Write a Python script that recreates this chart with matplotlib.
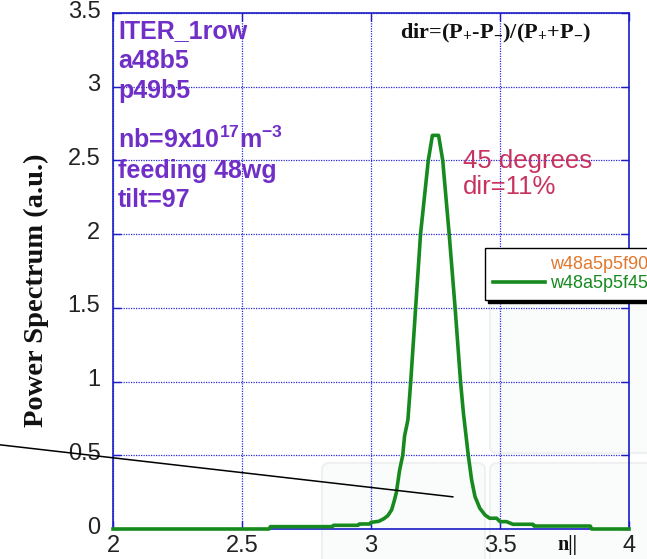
import matplotlib
matplotlib.use("Agg")
import matplotlib.pyplot as plt
from matplotlib.lines import Line2D
from matplotlib.patches import FancyBboxPatch
import matplotlib.transforms as mtransforms

# spectrum of the 45 degree case, read along n|| (2..4)
n_par = [2.00, 2.605, 2.61, 2.85, 2.855, 2.95, 2.955, 2.995, 3.00, 3.03,
         3.05, 3.065, 3.08, 3.09, 3.098, 3.111, 3.123, 3.13, 3.143, 3.154,
         3.173, 3.192, 3.222, 3.238, 3.262, 3.278, 3.303, 3.326, 3.347, 3.358,
         3.377, 3.39, 3.403, 3.422, 3.442, 3.46, 3.487, 3.50, 3.525, 3.55,
         3.628, 3.632, 3.85, 3.855, 4.00]
power = [0.0, 0.0, 0.016, 0.016, 0.025, 0.025, 0.034, 0.034, 0.045, 0.052,
         0.07, 0.09, 0.13, 0.19, 0.245, 0.40, 0.50, 0.63, 0.74, 1.00,
         1.50, 2.00, 2.50, 2.67, 2.67, 2.50, 2.00, 1.50, 1.00, 0.79,
         0.50, 0.333, 0.22, 0.14, 0.095, 0.073, 0.073, 0.05, 0.05, 0.032,
         0.032, 0.02, 0.02, 0.0, 0.0]

legend_labels = ["w48a5p5f90", "w48a5p5f45"]
x_ticks = [2, 2.5, 3, 3.5, 4]
y_ticks = [0, 0.5, 1, 1.5, 2, 2.5, 3, 3.5]
y_tick_labels = ["0", "0.5", "1", "1.5", "2", "2.5", "3", "3.5"]

info_lines = ["ITER_1row", "a48b5", "p49b5",
              r"nb=9x10$^{\mathbf{17}}$m$^{\mathbf{-3}}$",
              "feeding 48wg", "tilt=97"]

W, H = 647, 559
BLUE = "#1c1cc8"
GREEN = "#168a1e"
PURPLE = "#7030c8"
CRIMSON = "#c8325f"
ORANGE = "#e07830"

plt.rcParams["font.family"] = "Liberation Sans"
plt.rcParams["mathtext.fontset"] = "custom"
plt.rcParams["mathtext.bf"] = "Liberation Sans:bold"
plt.rcParams["mathtext.rm"] = "Liberation Serif:bold"


def fx(x):
    return x / W


def fy(y):
    return 1 - y / H


fig = plt.figure(figsize=(W / 100, H / 100), dpi=100)

# faint rounded panels behind the lower right of the plot
for x0, y0, x1, y1 in [(322, 463, 485, 575), (490, 463, 660, 575), (490, 300, 660, 453)]:
    fig.patches.append(FancyBboxPatch(
        (fx(x0), fy(y1)), fx(x1) - fx(x0), fy(y0) - fy(y1),
        boxstyle="round,pad=0,rounding_size=0.012", transform=fig.transFigure,
        facecolor="#fafbfb", edgecolor="#eff1f1", lw=1.5, zorder=-5))

ax = fig.add_axes([fx(113), fy(529), fx(629) - fx(113), fy(13) - fy(529)])
ax.set_facecolor("none")

ax.plot(n_par, power, color=GREEN, lw=2.6, zorder=4, clip_on=False)

ax.set_xlim(2, 4)
ax.set_ylim(0, 3.5)
ax.set_xticks(x_ticks)
ax.set_xticklabels(["2", "2.5", "3", "3.5", "4"])
ax.set_yticks(y_ticks)
ax.set_yticklabels(y_tick_labels)

ax.grid(True, color="#2a2ad8", linestyle=(0, (1, 1)), linewidth=0.9)
for sp in ax.spines.values():
    sp.set_color(BLUE)
    sp.set_linewidth(1.2)
ax.tick_params(direction="in", length=6, width=1, color=BLUE, top=True, right=True,
               labelsize=17, labelcolor="#222222")
ax.tick_params(axis="x", pad=4)
ax.tick_params(axis="y", pad=9)
shift = mtransforms.ScaledTranslation(0, 4 / 100, fig.dpi_scale_trans)
for lab in ax.get_yticklabels():
    lab.set_transform(lab.get_transform() + shift)

# axis titles
fig.text(fx(36), fy(290), "Power Spectrum (a.u.)", rotation=90, ha="center", va="center",
         family="Liberation Serif", weight="bold", fontsize=20.5, color="#111111")
fig.text(fx(567), fy(545), "n||", ha="center", va="center",
         family="Liberation Serif", weight="bold", fontsize=14.5, color="#111111")

# run parameters
for txt, yb in zip(info_lines, [38, 68, 98, 148, 178, 207]):
    fig.text(fx(118), fy(yb), txt, ha="left", va="baseline", fontsize=18,
             weight="bold", color=PURPLE)

fig.text(fx(400), fy(38), r"dir=(P$_{\mathrm{+}}$-P$_{\mathrm{-}}$)/(P$_{\mathrm{+}}$+P$_{\mathrm{-}}$)",
         ha="left", va="baseline", family="Liberation Serif", weight="bold",
         fontsize=16, color="#111111")

fig.text(fx(463), fy(168), "45 degrees", ha="left", va="baseline", fontsize=18.5, color=CRIMSON)
fig.text(fx(463), fy(194), "dir=11%", ha="left", va="baseline", fontsize=18.5, color=CRIMSON)

# pointer line
ax.annotate("", xy=(3.318, 0.218), xytext=(1.562, 0.571),
            arrowprops=dict(arrowstyle="-", color="k", lw=1.1, shrinkA=0, shrinkB=0),
            annotation_clip=False, zorder=5)

handles = [Line2D([], [], color="none"), Line2D([], [], color=GREEN, lw=2.6)]
leg = ax.legend(handles, legend_labels, loc="upper left",
                bbox_to_anchor=(fx(485), fy(248)), bbox_transform=fig.transFigure,
                borderaxespad=0, fontsize=13, labelcolor=[ORANGE, GREEN],
                fancybox=False, framealpha=1, edgecolor="k",
                shadow={"facecolor": "k", "edgecolor": "k", "alpha": 1},
                handlelength=2.9, handletextpad=0.25, labelspacing=0.1, borderpad=0.45)
leg.get_frame().set_linewidth(1.0)
leg.set_zorder(6)

fig.savefig("out.png", dpi=100)
